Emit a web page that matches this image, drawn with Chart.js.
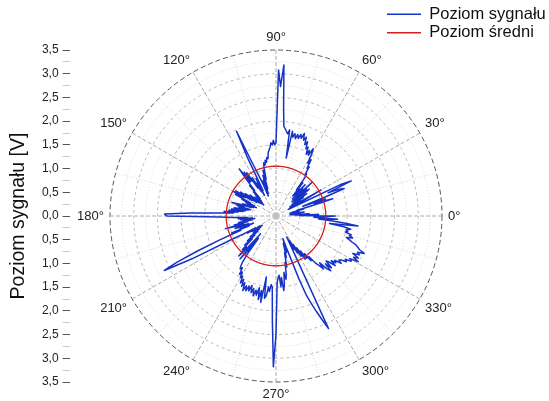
<!DOCTYPE html>
<html lang="pl">
<head>
    <meta charset="UTF-8">
    <title>Poziom sygnału</title>
    <script src="https://cdn.jsdelivr.net/npm/chart.js@4.4.1/dist/chart.umd.min.js"></script>
    <style>
        html, body {
            margin: 0;
            padding: 0;
            background: #fff;
            overflow: hidden;
        }
        .wrap {
            position: relative;
            width: 549px;
            height: 401px;
            overflow: hidden;
        }
        .wrap canvas {
            position: absolute;
        }
        #polar { left: 0; top: 0; }
        #axis { left: 0; top: 0; }
        #legend { left: 385px; top: 4px; }
    </style>
</head>
<body>
    <div class="wrap">
        <canvas id="polar" width="549" height="401"></canvas>
        <canvas id="axis" width="549" height="401"></canvas>
        <canvas id="legend" width="400" height="60"></canvas>
    </div>

    <script>
        // Poziom sygnału [V] dla kątów 0°..359° (co 1°, przeciwnie do wskazówek zegara, 0° po prawej)
        const signalLevel = [
            1.25, 0.5, 0.9, 0.4, 0.7, 0.3, 0.5, 0.35, 0.6, 0.3,        // 0-9
            0.45, 0.3, 0.5, 0.35, 0.6, 0.45, 0.8, 1.25, 0.85, 1.1,     // 10-19
            0.6, 1.1, 1.55, 1.45, 1.2, 1.75, 1.5, 0.5, 0.3, 0.5,       // 20-29
            1.1, 0.4, 0.6, 0.35, 0.7, 0.4, 0.8, 0.45, 0.6, 0.9,        // 30-39
            0.5, 0.85, 0.45, 1.05, 0.6, 0.8, 0.5, 0.9, 0.6, 0.75,      // 40-49
            0.55, 0.9, 0.7, 1.0, 1.1, 1.07, 1.25, 1.2, 1.4, 1.3,       // 50-59
            1.5, 1.62, 1.45, 1.55, 1.45, 1.6, 1.55, 1.7, 1.62, 1.78,   // 60-69
            1.7, 1.84, 1.72, 1.8, 1.7, 1.78, 1.68, 1.78, 1.7, 1.82,    // 70-79
            1.24, 1.84, 1.75, 1.8, 1.85, 1.9, 2.3, 3.19, 2.73, 3.08,   // 80-89
            1.55, 1.5, 1.6, 1.5, 1.55, 1.45, 1.4, 1.35, 1.22, 1.25,    // 90-99
            1.15, 1.2, 1.1, 1.15, 1.05, 0.8, 1.0, 0.6, 0.9, 0.5,       // 100-109
            0.8, 0.45, 0.7, 0.9, 1.2, 1.97, 1.4, 0.6, 0.9, 0.5,        // 110-119
            0.8, 0.6, 0.95, 0.7, 1.1, 0.9, 1.14, 0.9, 1.26, 1.0,       // 120-129
            0.7, 0.85, 0.5, 0.7, 0.45, 0.6, 0.4, 0.55, 0.35, 0.6,      // 130-139
            0.4, 0.7, 0.45, 0.6, 0.8, 0.5, 0.9, 0.6, 1.0, 0.75,        // 140-149
            1.03, 0.8, 0.97, 0.6, 0.8, 0.5, 0.7, 0.45, 0.65, 0.5,      // 150-159
            0.75, 0.55, 0.8, 0.97, 0.7, 0.85, 0.55, 0.8, 0.6, 0.9,     // 160-169
            0.65, 0.95, 0.7, 1.0, 0.8, 1.1, 0.9, 1.2, 1.8, 2.35,       // 170-179
            2.3, 1.2, 0.9, 0.6, 0.8, 0.5, 0.75, 0.45, 0.7, 0.5,        // 180-189
            0.8, 0.6, 0.9, 0.7, 1.1, 0.8, 0.6, 0.9, 0.5, 0.8,          // 190-199
            0.6, 1.0, 0.8, 1.3, 1.8, 2.3, 2.62, 2.0, 1.0, 0.78,        // 200-209
            0.5, 0.7, 0.4, 0.6, 0.35, 0.55, 0.4, 0.6, 0.45, 0.7,       // 210-219
            0.5, 0.8, 0.6, 0.9, 0.7, 1.0, 0.9, 1.15, 0.95, 0.5,        // 220-229
            1.18, 0.95, 0.6, 1.0, 1.2, 1.3, 1.35, 1.3, 1.45, 1.38,     // 230-239
            1.5, 1.45, 1.6, 1.5, 1.65, 1.55, 1.72, 1.6, 1.7, 1.58,     // 240-249
            1.68, 1.55, 1.7, 1.6, 1.75, 1.62, 1.72, 1.55, 1.8, 1.6,    // 250-259
            1.85, 1.3, 1.75, 1.7, 1.5, 1.6, 1.45, 1.5, 2.2, 3.18,      // 260-269
            2.5, 1.4, 1.3, 1.25, 1.5, 1.3, 1.58, 1.45, 1.2, 1.35,      // 270-279
            1.24, 1.0, 1.1, 0.8, 0.9, 0.6, 0.8, 0.5, 0.7, 0.9,         // 280-289
            1.4, 1.8, 2.0, 2.2, 2.4, 2.62, 0.9, 0.5, 0.8, 0.6,         // 290-299
            0.9, 0.7, 1.0, 0.8, 1.1, 0.9, 1.1, 1.0, 1.2, 1.1,          // 300-309
            1.3, 1.38, 1.5, 1.35, 1.55, 1.63, 1.45, 1.6, 1.42, 1.48,   // 310-319
            1.63, 1.5, 1.6, 1.55, 1.7, 1.62, 1.66, 1.77, 1.72, 1.85,   // 320-329
            1.8, 1.98, 1.85, 1.95, 1.8, 1.94, 1.88, 2.02, 1.9, 1.85,   // 330-339
            1.8, 1.7, 1.63, 1.55, 1.68, 1.6, 1.64, 1.5, 1.55, 1.51,    // 340-349
            1.6, 1.45, 1.14, 1.74, 1.5, 1.2, 0.9, 1.3, 0.8, 1.0        // 350-359
        ];
        const meanLevel = 1.05;

        const rMax = 3.5;
        const rStep = 0.25;
        const labelEvery = 30;
        const seriesNames = ['Poziom sygnału', 'Poziom średni'];
        const seriesColors = ['#1633c8', '#d81e1e'];

        Chart.defaults.font.family = "'Liberation Sans', Arial, sans-serif";
        Chart.defaults.color = '#222';

        // radar rysuje od góry zgodnie z zegarem -> kolejność 90, 89, ..., 0, 359, ..., 91
        const radarAngles = signalLevel.map((v, i) => (90 - i + 360) % 360);
        const radarSignal = radarAngles.map(a => signalLevel[a]);
        const radarMean = radarAngles.map(() => meanLevel);

        function isHalf(v) {
            return Math.abs(v * 2 - Math.round(v * 2)) < 1e-6;
        }

        const polar = new Chart(document.getElementById('polar'), {
            type: 'radar',
            data: {
                labels: radarAngles,
                datasets: [{
                    label: seriesNames[1],
                    data: radarMean,
                    borderColor: seriesColors[1],
                    borderWidth: 1.3,
                    fill: false,
                    pointRadius: 0,
                    pointHitRadius: 0
                }, {
                    label: seriesNames[0],
                    data: radarSignal,
                    borderColor: seriesColors[0],
                    borderWidth: 1.5,
                    fill: false,
                    pointRadius: 0,
                    pointHitRadius: 0
                }]
            },
            options: {
                responsive: false,
                animation: false,
                events: [],
                layout: { padding: { top: 31, bottom: 0, left: 4, right: 0 } },
                elements: { line: { tension: 0, borderJoinStyle: 'round' } },
                plugins: {
                    legend: { display: false },
                    tooltip: { enabled: false }
                },
                scales: {
                    r: {
                        min: 0,
                        max: rMax,
                        ticks: { display: false, stepSize: rStep },
                        grid: {
                            circular: true,
                            lineWidth: 1,
                            color: ctx => {
                                const v = ctx.tick.value;
                                if (v >= rMax) return '#555';
                                return isHalf(v) ? '#b9b9b9' : '#dadada';
                            }
                        },
                        border: {
                            dash: ctx => {
                                const v = ctx.tick.value;
                                if (v >= rMax) return [5, 3];
                                return isHalf(v) ? [3, 3] : [1, 2];
                            }
                        },
                        angleLines: {
                            color: ctx => radarAngles[ctx.index] % labelEvery === 0 ? '#ababab' : '#d4d4d4',
                            lineWidth: ctx => radarAngles[ctx.index] % 15 === 0 ? 1 : 0,
                            borderDash: ctx => radarAngles[ctx.index] % labelEvery === 0 ? [4, 2] : [1, 2],
                            borderDashOffset: -6
                        },
                        pointLabels: {
                            padding: 6,
                            color: '#222',
                            font: { size: 13, lineHeight: 1 },
                            callback: a => a % labelEvery === 0 ? a + '°' : ''
                        }
                    }
                }
            }
        });

        // oś pionowa dopasowana do okręgu wykresu
        const rs = polar.scales.r;
        new Chart(document.getElementById('axis'), {
            type: 'scatter',
            data: { datasets: [] },
            options: {
                responsive: false,
                animation: false,
                events: [],
                layout: {
                    padding: {
                        top: rs.yCenter - rs.drawingArea,
                        bottom: 401 - (rs.yCenter + rs.drawingArea),
                        left: 4,
                        right: 0
                    }
                },
                plugins: {
                    legend: { display: false },
                    tooltip: { enabled: false }
                },
                scales: {
                    x: { display: false },
                    y: {
                        min: -rMax,
                        max: rMax,
                        ticks: {
                            stepSize: rStep,
                            autoSkip: false,
                            padding: 4,
                            color: '#222',
                            font: { size: 12 },
                            callback: v => isHalf(v) ? Math.abs(v).toFixed(1).replace('.', ',') : ''
                        },
                        grid: {
                            drawOnChartArea: false,
                            drawTicks: true,
                            tickLength: 7,
                            color: ctx => isHalf(ctx.tick.value) ? '#555' : '#cccccc'
                        },
                        border: { display: false },
                        title: {
                            display: true,
                            text: 'Poziom sygnału [V]',
                            color: '#111',
                            font: { size: 19.5 },
                            padding: { top: 3, bottom: 7.5 }
                        }
                    }
                }
            }
        });

        // legenda
        new Chart(document.getElementById('legend'), {
            type: 'line',
            data: {
                datasets: seriesNames.map((name, i) => ({
                    label: name,
                    data: [],
                    borderColor: seriesColors[i],
                    backgroundColor: seriesColors[i],
                    borderWidth: 1.5
                }))
            },
            options: {
                responsive: false,
                animation: false,
                events: [],
                scales: {
                    x: { display: false },
                    y: { display: false }
                },
                plugins: {
                    tooltip: { enabled: false },
                    legend: {
                        position: 'left',
                        align: 'start',
                        labels: {
                            usePointStyle: true,
                            pointStyle: 'line',
                            pointStyleWidth: 34,
                            boxHeight: 16,
                            padding: 2,
                            color: '#111',
                            font: { size: 16.5 }
                        }
                    }
                }
            }
        });
    </script>
</body>
</html>
